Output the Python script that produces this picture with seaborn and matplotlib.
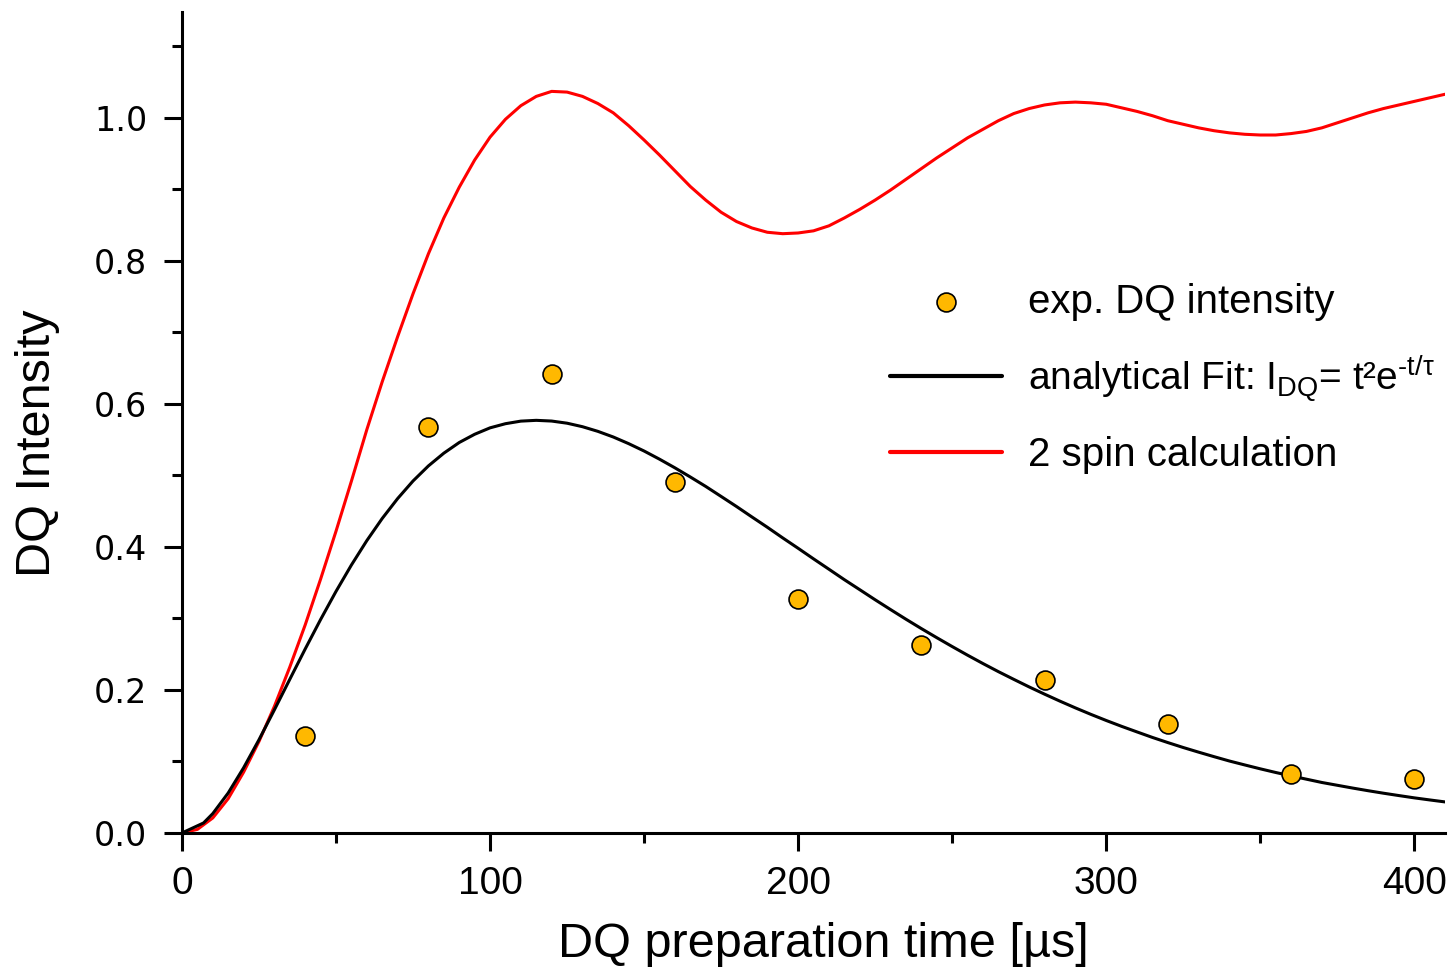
import numpy as np
import pandas as pd
import matplotlib
matplotlib.use("Agg")
import matplotlib.pyplot as plt
from matplotlib.lines import Line2D
from matplotlib.ticker import MultipleLocator, FormatStrFormatter
import seaborn as sns

# Measured double-quantum build-up
exp_time = [40, 80, 120, 160, 200, 240, 280, 320, 360, 400]
exp_intensity = [0.136, 0.568, 0.642, 0.491, 0.327, 0.263, 0.214, 0.152, 0.083, 0.076]

# Analytical fit I_DQ = t^2 exp(-t/tau), tabulated
fit_time = [0, 7, 10, 15, 20, 25, 30, 35, 40, 45, 50, 55, 60, 65, 70, 75, 80,
            85, 90, 95, 100, 105, 110, 115, 120, 125, 130, 135, 140, 145, 150,
            155, 160, 165, 170, 175, 180, 185, 190, 195, 200, 205, 210, 215,
            220, 225, 230, 235, 240, 245, 250, 255, 260, 265, 270, 275, 280,
            285, 290, 295, 300, 305, 310, 315, 320, 325, 330, 335, 340, 345,
            350, 355, 360, 365, 370, 375, 380, 385, 390, 395, 400, 405, 410]
fit_intensity = [0.0, 0.0140, 0.0271, 0.0559, 0.0911, 0.1304, 0.1722, 0.2149,
                 0.2573, 0.2985, 0.3378, 0.3747, 0.4088, 0.4398, 0.4676, 0.4922,
                 0.5133, 0.5311, 0.5460, 0.5575, 0.5665, 0.5723, 0.5759, 0.5770,
                 0.5760, 0.5730, 0.5681, 0.5616, 0.5537, 0.5444, 0.5341, 0.5227,
                 0.5106, 0.4978, 0.4846, 0.4706, 0.4565, 0.4419, 0.4275, 0.4126,
                 0.3981, 0.3833, 0.3688, 0.3542, 0.3402, 0.3261, 0.3124, 0.2989,
                 0.2858, 0.2731, 0.2607, 0.2486, 0.2369, 0.2256, 0.2148, 0.2042,
                 0.1941, 0.1843, 0.1749, 0.1659, 0.1573, 0.1491, 0.1413, 0.1336,
                 0.1264, 0.1195, 0.1130, 0.1067, 0.1006, 0.0951, 0.0897, 0.0846,
                 0.0798, 0.0752, 0.0706, 0.0667, 0.0628, 0.0591, 0.0556, 0.0523,
                 0.0491, 0.0462, 0.0434]

# Two-spin simulation
spin_time = [0, 5, 10, 15, 20, 25, 30, 35, 40, 45, 50, 55, 60, 65, 70, 75, 80,
             85, 90, 95, 100, 105, 110, 115, 120, 125, 130, 135, 140, 145, 150,
             155, 160, 165, 170, 175, 180, 185, 190, 195, 200, 205, 210, 215,
             220, 225, 230, 235, 240, 245, 250, 255, 260, 265, 270, 275, 280,
             285, 290, 295, 300, 305, 310, 315, 320, 325, 330, 335, 340, 345,
             350, 355, 360, 365, 370, 375, 380, 385, 390, 395, 400, 405, 410]
spin_intensity = [0.0, 0.005, 0.021, 0.048, 0.085, 0.128, 0.177, 0.232, 0.291,
                  0.355, 0.422, 0.492, 0.564, 0.631, 0.694, 0.754, 0.810, 0.860,
                  0.903, 0.941, 0.973, 0.998, 1.017, 1.030, 1.037, 1.036, 1.030,
                  1.020, 1.007, 0.989, 0.969, 0.948, 0.926, 0.904, 0.885, 0.868,
                  0.855, 0.846, 0.840, 0.838, 0.839, 0.842, 0.849, 0.860, 0.872,
                  0.885, 0.899, 0.914, 0.929, 0.944, 0.958, 0.972, 0.984, 0.996,
                  1.006, 1.013, 1.018, 1.021, 1.022, 1.021, 1.019, 1.014, 1.009,
                  1.003, 0.996, 0.991, 0.986, 0.982, 0.979, 0.977, 0.976, 0.976,
                  0.978, 0.981, 0.986, 0.993, 1.000, 1.007, 1.013, 1.018, 1.023,
                  1.028, 1.033]

sns.set_style("ticks")
plt.rcParams["font.family"] = ["Liberation Sans", "DejaVu Sans"]
plt.rcParams["mathtext.fontset"] = "custom"
plt.rcParams["mathtext.rm"] = "Liberation Sans"
plt.rcParams["mathtext.it"] = "Liberation Sans"
plt.rcParams["text.color"] = "black"
plt.rcParams["axes.labelcolor"] = "black"

fig = plt.figure(figsize=(14.5, 9.68), dpi=100)
ax = fig.add_axes([0.1255, 0.1395, 0.8711, 0.8481])

df_fit = pd.DataFrame({"t": fit_time, "I": fit_intensity})
df_spin = pd.DataFrame({"t": spin_time, "I": spin_intensity})
df_exp = pd.DataFrame({"t": exp_time, "I": exp_intensity})

sns.lineplot(data=df_spin, x="t", y="I", ax=ax, color="#FF0000", lw=2.2,
             label="2 spin calculation", zorder=2)
sns.lineplot(data=df_fit, x="t", y="I", ax=ax, color="black", lw=2.2,
             label="analytical Fit: I$_{\\mathregular{DQ}}$= t²e$^{\\mathregular{‐t/τ}}$",
             zorder=3)
sns.scatterplot(data=df_exp, x="t", y="I", ax=ax, color="#FFB800",
                edgecolor="black", linewidth=1.2, s=185, zorder=4,
                label="exp. DQ intensity")

ax.set_xlim(0, 410)
ax.set_ylim(0, 1.148)
ax.xaxis.set_major_locator(MultipleLocator(100))
ax.xaxis.set_minor_locator(MultipleLocator(50))
ax.yaxis.set_major_locator(MultipleLocator(0.2))
ax.yaxis.set_minor_locator(MultipleLocator(0.1))
ax.yaxis.set_major_formatter(FormatStrFormatter("%.1f"))

for side in ["top", "right"]:
    ax.spines[side].set_visible(False)
for side in ["left", "bottom"]:
    ax.spines[side].set_linewidth(2.2)
    ax.spines[side].set_color("black")

ax.tick_params(which="major", length=13, width=2.2, direction="out",
               colors="black")
ax.tick_params(which="minor", length=7, width=2.2, direction="out",
               colors="black")
ax.tick_params(axis="x", which="major", labelsize=28, pad=11)
ax.tick_params(axis="y", which="major", labelsize=24, pad=12)
for lab in ax.get_yticklabels():
    lab.set_fontfamily("DejaVu Sans")

ax.set_xlabel("DQ preparation time [µs]", fontsize=35, labelpad=14)
ax.xaxis.label.set_x(0.5075)
ax.set_ylabel("DQ Intensity", fontsize=35)
ax.yaxis.set_label_coords(-0.0966, 0.475)

handles, labels = ax.get_legend_handles_labels()
order = [2, 1, 0]
leg = ax.legend([handles[i] for i in order], [labels[i] for i in order],
                loc="upper left", bbox_to_anchor=(0.5606, 0.670),
                frameon=False, fontsize=29, handlelength=2.78,
                handletextpad=0.65, labelspacing=0.8, scatterpoints=1,
                borderpad=0, borderaxespad=0)
leg.get_texts()[1].set_fontsize(28)
for h in leg.legend_handles:
    if isinstance(h, Line2D):
        h.set_linewidth(3)

fig.savefig("out.png", dpi=100)
